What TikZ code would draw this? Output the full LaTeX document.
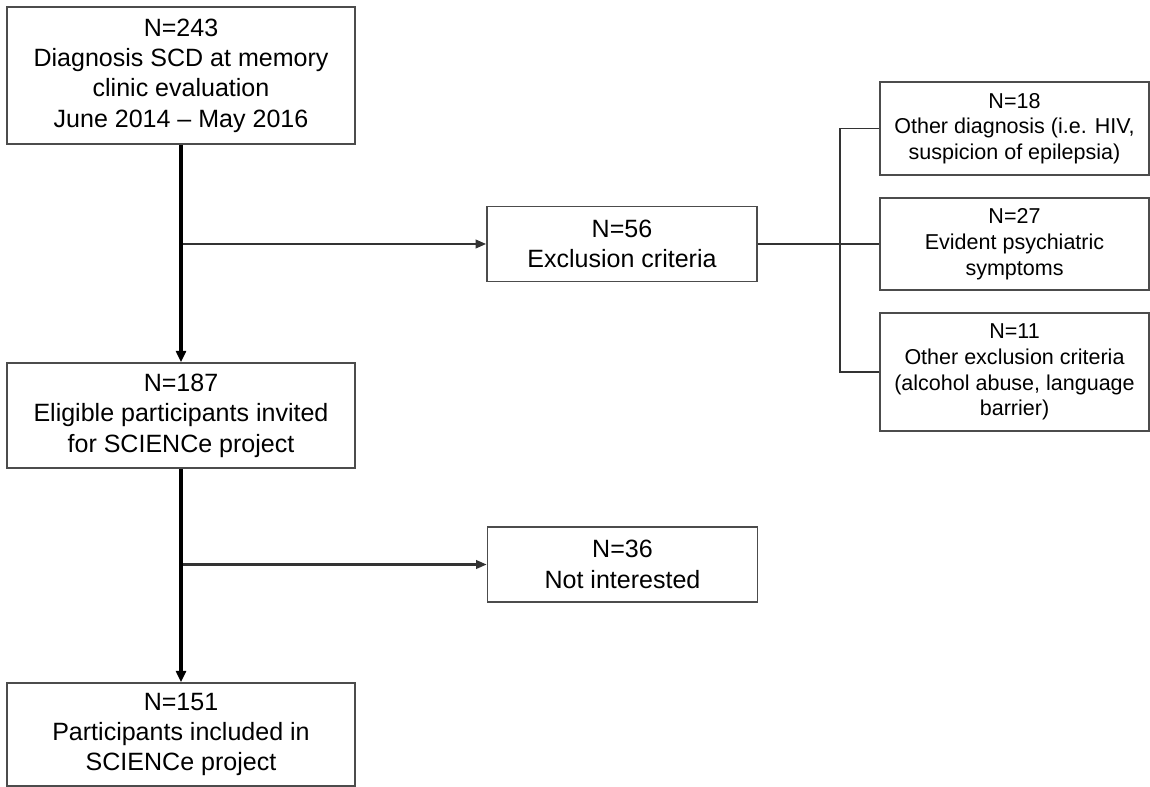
\documentclass[tikz,border=0pt]{standalone}
\usepackage{xcolor}
\usepackage{fontspec}
\setmainfont{Liberation Sans}
\usetikzlibrary{arrows.meta}

\begin{document}
\begin{tikzpicture}[x=0.025cm,y=-0.025cm,
    box/.style={draw=black!70, line width=1.1pt, fill=white, align=center, inner sep=0pt,
        font=\fontsize{17.8}{21.6}\selectfont},
    sidebox/.style={box, font=\fontsize{15.3}{18.3}\selectfont},
    mainline/.style={line width=2.5pt, -{Triangle[length=8pt,width=7pt]}},
    branch/.style={draw=black!80, line width=1.6pt, -{Triangle[length=7.5pt,width=6pt]}},
    bracket/.style={draw=black!80, line width=1.4pt}]

    \useasboundingbox (0,0) rectangle (1150,787);

    \node[box, minimum width=8.7cm, minimum height=3.425cm] (n243) at (181,75.5)
        {N=243\\Diagnosis SCD at memory\\clinic evaluation\\June 2014 -- May 2016};
    \node[box, minimum width=8.7cm, minimum height=2.625cm] (n187) at (181,415.5)
        {N=187\\Eligible participants invited\\for SCIENCe project};
    \node[box, minimum width=8.7cm, minimum height=2.575cm] (n151) at (181,734.5)
        {N=151\\Participants included in\\SCIENCe project};

    \node[box, minimum width=6.75cm, minimum height=1.875cm] (n56) at (622,244)
        {N=56\\Exclusion criteria};
    \node[box, minimum width=6.75cm, minimum height=1.875cm] (n36) at (622.5,564.5)
        {N=36\\Not interested};

    \node[sidebox, minimum width=6.725cm, minimum height=2.325cm] (n18) at (1014.5,128.5)
        {N=18\\Other diagnosis (i.e. HIV,\\suspicion of epilepsia)};
    \node[sidebox, minimum width=6.725cm, minimum height=2.3cm] (n27) at (1014.5,244)
        {N=27\\Evident psychiatric\\symptoms};
    \node[sidebox, minimum width=6.725cm, minimum height=2.95cm] (n11) at (1014.5,372)
        {N=11\\Other exclusion criteria\\(alcohol abuse, language\\barrier)};

    % side branches
    \coordinate (b56) at (n243.south |- n56.west);
    \coordinate (b36) at (n187.south |- n36.west);
    \coordinate (split) at (840,244);

    \draw[branch] (b56) -- (n56.west);
    \draw[branch] (b36) -- (n36.west);
    \draw[mainline] (n243.south) -- (n187.north);
    \draw[mainline] (n187.south) -- (n151.north);

    \draw[bracket] (n56.east) -- (n27.west);
    \draw[bracket] (n18.west) -| (split) |- (n11.west);
\end{tikzpicture}
\end{document}
